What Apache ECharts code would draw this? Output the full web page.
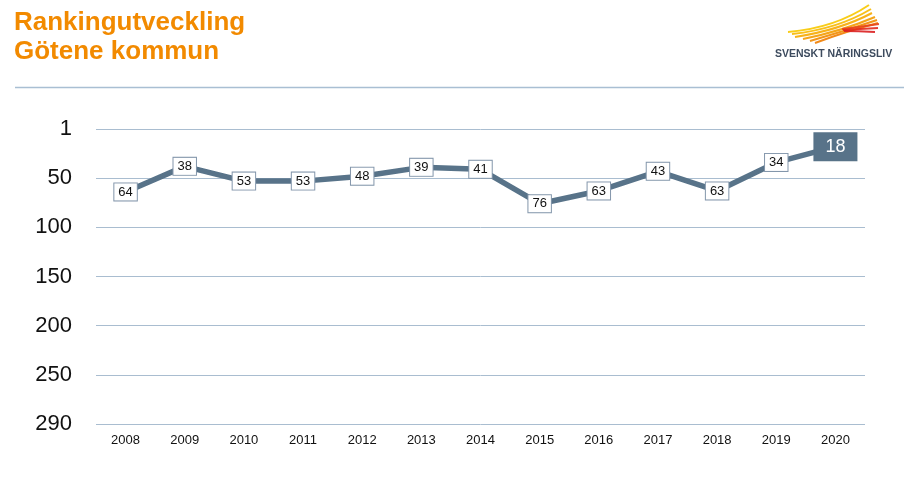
<!DOCTYPE html>
<html>
<head>
<meta charset="utf-8">
<script src="https://cdn.jsdelivr.net/npm/echarts@6/dist/echarts.min.js"></script>
<style>
html,body{margin:0;padding:0;background:#fff;}
#chart{width:904px;height:483px;}
</style>
</head>
<body>
<div id="chart"></div>
<script>
const years = ['2008','2009','2010','2011','2012','2013','2014','2015','2016','2017','2018','2019','2020'];
const ranks = [64, 38, 53, 53, 48, 39, 41, 76, 63, 43, 63, 34, 18];
const yTickValues = [0, 50, 100, 150, 200, 250, 300];
const yTickLabels = ['1', '50', '100', '150', '200', '250', '290'];
const titleLines = ['Rankingutveckling', 'Götene kommun'];
const brandText = 'SVENSKT NÄRINGSLIV';

const lineColor = '#587389';
const chart = echarts.init(document.getElementById('chart'), null, {renderer: 'canvas'});

const seriesData = ranks.map((v, i) => {
  if (i === ranks.length - 1) {
    return {
      value: v,
      label: {
        backgroundColor: lineColor,
        borderColor: lineColor,
        color: '#ffffff',
        fontSize: 18,
        padding: [5, 11, 4, 11]
      }
    };
  }
  return v;
});

// logo wing strokes: [start, control, end, colour]
const wing = [
  [[788,32],[835,28],[869,5],'#f7c800'],
  [[792,34],[838,29],[871,9],'#f7b900'],
  [[795,37],[840,30],[872,13],'#f6aa00'],
  [[803,39],[842,31],[875,17],'#f39b00'],
  [[810,41],[845,31],[877,20],'#f18b00'],
  [[815,43],[847,31],[878,23],'#ef7d00'],
  [[842,29],[860,27],[879,24],'#e8421c'],
  [[843,30],[860,29],[878,28],'#e2281d'],
  [[844,31],[858,31],[875,32],'#da1f20']
];
const graphics = [];
titleLines.forEach((t, i) => {
  graphics.push({
    type: 'text', left: 14, top: 10 + i * 29,
    style: {text: t, fill: '#f28a00', font: 'bold 26px Arial, "Liberation Sans", sans-serif'}
  });
});
wing.forEach(w => {
  graphics.push({
    type: 'bezierCurve',
    shape: {x1: w[0][0], y1: w[0][1], cpx1: w[1][0], cpy1: w[1][1], x2: w[2][0], y2: w[2][1]},
    style: {stroke: w[3], lineWidth: 2, fill: null, opacity: 0.9}
  });
});
graphics.push({
  type: 'text', left: 775, top: 49,
  style: {text: brandText, fill: '#3d4b5e', font: 'bold 10.5px Arial, "Liberation Sans", sans-serif'}
});
graphics.push({
  type: 'line',
  shape: {x1: 15, y1: 87.5, x2: 904, y2: 87.5},
  style: {stroke: '#a9bfd3', lineWidth: 1.5}
});

chart.setOption({
  animation: false,
  backgroundColor: '#ffffff',
  graphic: graphics,
  grid: {left: 96, right: 39, top: 129, bottom: 59, containLabel: false},
  xAxis: {
    type: 'category',
    data: years,
    boundaryGap: true,
    axisLine: {show: false},
    axisTick: {show: false},
    axisLabel: {color: '#111', fontSize: 13, fontFamily: 'Arial, "Liberation Sans", sans-serif', margin: 10}
  },
  yAxis: {
    type: 'value',
    inverse: true,
    min: yTickValues[0],
    max: yTickValues[yTickValues.length - 1],
    interval: 50,
    splitLine: {show: true, lineStyle: {color: '#a9bdd0', width: 1}},
    axisLine: {show: false},
    axisTick: {show: false},
    axisLabel: {
      color: '#111',
      fontSize: 22,
      fontFamily: 'Arial, "Liberation Sans", sans-serif',
      margin: 24,
      formatter: v => {
        const i = yTickValues.indexOf(v);
        return i >= 0 ? yTickLabels[i] : '';
      }
    }
  },
  series: [{
    type: 'line',
    data: seriesData,
    symbol: 'circle',
    symbolSize: 0.1,
    showSymbol: true,
    lineStyle: {color: lineColor, width: 5.5},
    itemStyle: {color: lineColor},
    label: {
      show: true,
      position: 'inside',
      color: '#111',
      fontSize: 13,
      fontFamily: 'Arial, "Liberation Sans", sans-serif',
      backgroundColor: '#ffffff',
      borderColor: '#8396ab',
      borderWidth: 1,
      padding: [3, 4, 1, 4]
    },
    z: 3
  }]
});
</script>
</body>
</html>
